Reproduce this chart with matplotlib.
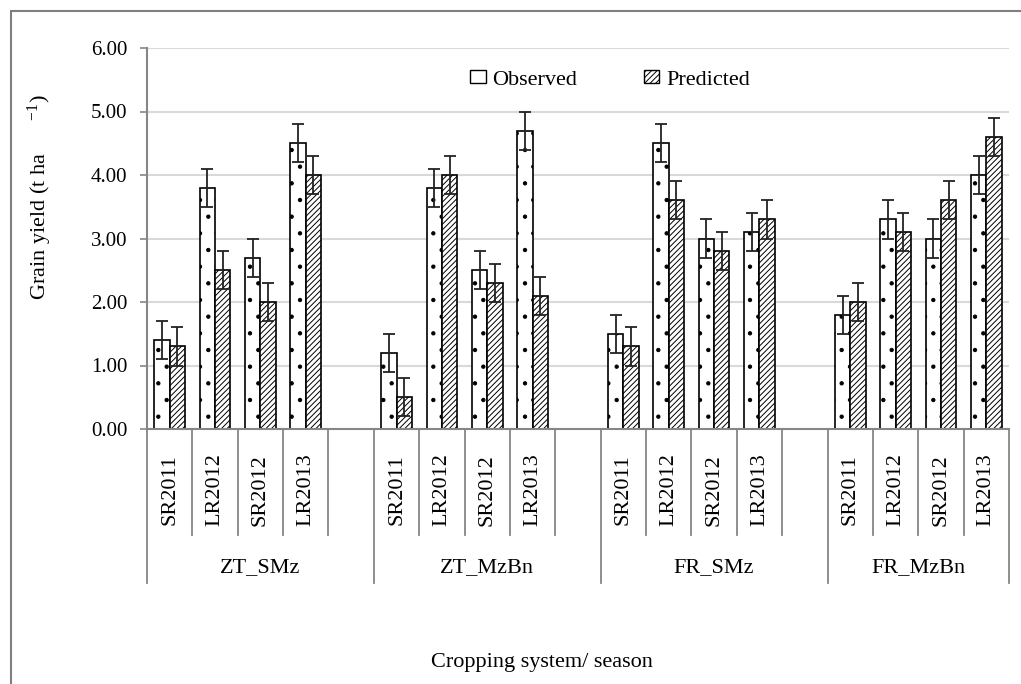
import matplotlib
matplotlib.use('Agg')
import matplotlib.pyplot as plt
import matplotlib.patches as mpatches
import matplotlib.transforms as mtransforms

plt.rcParams['font.family'] = ['Liberation Serif', 'DejaVu Serif']
plt.rcParams['mathtext.fontset'] = 'custom'
plt.rcParams['mathtext.rm'] = 'Liberation Serif'
plt.rcParams['mathtext.it'] = 'Liberation Serif'
plt.rcParams['hatch.linewidth'] = 0.7

# data
systems = ['ZT_SMz', 'ZT_MzBn', 'FR_SMz', 'FR_MzBn']
seasons = ['SR2011', 'LR2012', 'SR2012', 'LR2013']
observed = [[1.4, 3.8, 2.7, 4.5],
            [1.2, 3.8, 2.5, 4.7],
            [1.5, 4.5, 3.0, 3.1],
            [1.8, 3.3, 3.0, 4.0]]
predicted = [[1.3, 2.5, 2.0, 4.0],
             [0.5, 4.0, 2.3, 2.1],
             [1.3, 3.6, 2.8, 3.3],
             [2.0, 3.1, 3.6, 4.6]]
err_obs = 0.3
err_pred = 0.3
yticks = [0, 1, 2, 3, 4, 5, 6]

W, H = 1021, 684
fig = plt.figure(figsize=(W / 100, H / 100), dpi=100)
ax = fig.add_axes([147 / W, 1 - 429 / H, (1009 - 147) / W, (429 - 48) / H])

# one empty slot after every group except the last
xs = []
for g in range(len(systems)):
    for s in range(len(seasons)):
        xs.append(g * (len(seasons) + 1) + s)
nslots = xs[-1] + 1
obs_flat = [v for row in observed for v in row]
pred_flat = [v for row in predicted for v in row]

bw = 0.338
xo = [x - bw / 2 for x in xs]
xp = [x + bw / 2 for x in xs]
ax.bar(xo, obs_flat, bw, facecolor='white', edgecolor='black', lw=1.2, hatch='.', zorder=3)
ax.bar(xp, pred_flat, bw, facecolor='white', edgecolor='black', lw=1.2, hatch='//////', zorder=3)
ax.errorbar(xo, obs_flat, yerr=err_obs, fmt='none', ecolor='#222222', elinewidth=1.3,
            capsize=4, capthick=1.3, zorder=4)
ax.errorbar(xp, pred_flat, yerr=err_pred, fmt='none', ecolor='#222222', elinewidth=1.3,
            capsize=4, capthick=1.3, zorder=4)

ax.set_xlim(-0.5, nslots - 0.5)
ax.set_ylim(0, 6)
ax.set_yticks(yticks)
ax.set_yticklabels(['%.2f' % t for t in yticks], fontsize=15)
ax.yaxis.grid(True, color='#d9d9d9', lw=1.5)
ax.set_axisbelow(True)
ax.set_xticks([])
for sp in ['top', 'right', 'bottom']:
    ax.spines[sp].set_visible(False)
ax.spines['left'].set_color('#868686')
ax.spines['left'].set_linewidth(1.5)
ax.tick_params(axis='y', length=5, width=1.2, color='#868686', pad=9)

# multi-level category axis
trans = mtransforms.blended_transform_factory(ax.transData, ax.transAxes)
gray = '#868686'
ax.plot([-0.5, nslots - 0.5], [0, 0], color=gray, lw=1.5, transform=trans, clip_on=False, zorder=5)
group_edges = [g * (len(seasons) + 1) - 0.5 for g in range(len(systems))] + [nslots - 0.5]
for b in range(nslots + 1):
    xb = b - 0.5
    low = -0.404 if xb in group_edges else -0.278
    ax.plot([xb, xb], [0, low], color=gray, lw=1.3, transform=trans, clip_on=False)
for x, lab in zip(xs, seasons * len(systems)):
    ax.text(x, -0.16, lab, rotation=90, ha='center', va='center', fontsize=16, transform=trans)
for g, name in enumerate(systems):
    xc = (group_edges[g] + group_edges[g + 1]) / 2
    ax.text(xc, -0.365, name, ha='center', va='center', fontsize=16, transform=trans)

handles = [mpatches.Patch(facecolor='white', edgecolor='black', lw=1.0, label='Observed'),
           mpatches.Patch(facecolor='white', edgecolor='black', lw=1.0, hatch='//////', label='Predicted')]
ax.legend(handles=handles, loc='center', bbox_to_anchor=(0.537, 0.916), ncol=2, frameon=False,
          fontsize=16, handlelength=0.7, handleheight=0.5, handletextpad=0.3, columnspacing=3.0)

fig.text(40 / W, 1 - 197 / H, 'Grain yield (t ha      $^{-1}$)', rotation=90, ha='center',
         va='center', fontsize=16)
fig.text(542 / W, 1 - 663 / H, 'Cropping system/ season', ha='center', va='center', fontsize=16)

fig.add_artist(mpatches.Rectangle((11 / W, -0.1), 1.2, 1.1 - 11 / H, transform=fig.transFigure,
                                  fill=False, edgecolor='#7f7f7f', lw=1.5))

fig.savefig('out.png', dpi=100)
